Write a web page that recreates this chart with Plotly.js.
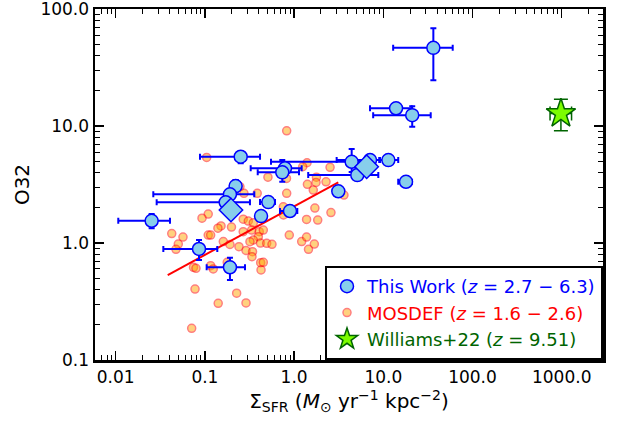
<!DOCTYPE html>
<html><head><meta charset="utf-8">
<script src="https://cdn.plot.ly/plotly-3.0.1.min.js"></script>
<style>html,body{margin:0;padding:0;background:#fff}#chart{width:622px;height:424px}</style>
</head><body><div id="chart"></div>
<script>
// ---- This Work (individual galaxies) ----
const workX   = [36.4, 13.9, 21.1, 4.42, 7.10, 11.4, 5.11, 17.97, 3.13, 0.252, 0.791, 0.737, 0.221, 0.191, 0.171, 0.514, 0.899, 0.426, 0.0253, 0.0859, 0.191];
const workY   = [46.7, 14.2, 12.4, 4.95, 5.12, 5.12, 3.81, 3.34, 2.77, 5.47, 4.35, 4.02, 3.07, 2.61, 2.23, 2.24, 1.877, 1.70, 1.55, 0.889, 0.620];
const workXLo = [12.9, 7.1, 7.7, 0.551, 3.0, 9.2, 1.44, 14.7, 3.13, 0.0881, 0.326, 0.391, 0.221, 0.0264, 0.0288, 0.415, 0.695, 0.426, 0.01069, 0.0342, 0.1047];
const workXHi = [60, 20.8, 34, 6.4, 9.0, 14.7, 8.79, 21.0, 3.13, 0.415, 1.216, 1.135, 0.221, 0.358, 0.320, 0.611, 1.086, 0.426, 0.0406, 0.1377, 0.2816];
const workYLo = [24.7, 14.2, 9.86, 4.04, 5.12, 5.12, 3.81, 3.34, 2.77, 4.80, 4.35, 3.34, 2.72, 2.61, 2.23, 2.24, 1.877, 1.70, 1.335, 0.716, 0.483];
const workYHi = [68.8, 14.2, 14.8, 6.36, 5.12, 5.12, 3.81, 3.34, 2.77, 6.03, 4.35, 5.12, 3.46, 2.61, 2.23, 2.24, 1.877, 1.70, 1.77, 1.061, 0.749];
// ---- This Work (stacks, diamonds) ----
const stackX = [0.196, 6.51];
const stackY = [1.915, 4.49];
// ---- MOSDEF ----
const mosdefX = [0.1047, 0.826, 1.396, 1.248, 2.53, 0.509, 0.822, 1.78, 1.76, 2.28, 1.41, 1.64, 0.826, 0.386, 0.274, 0.247, 3.62, 0.757, 1.71, 2.59, 0.760, 0.109, 0.0928, 0.269, 0.3065, 0.349, 1.38, 1.84, 0.1516, 0.140, 0.1986, 0.0425, 0.0568, 0.109, 0.116, 0.269, 0.3346, 0.407, 0.4516, 0.397, 0.349, 0.320, 0.883, 1.216, 1.38, 1.685, 1.45, 0.0503, 0.0474, 0.1608, 0.191, 0.241, 0.289, 0.342, 0.337, 0.420, 0.493, 0.565, 0.0745, 0.0794, 0.116, 0.124, 0.178, 0.422, 0.4516, 0.426, 0.0775, 0.227, 0.141, 0.289, 0.0711];
const mosdefY = [5.40, 9.12, 4.86, 4.49, 4.44, 3.66, 3.57, 3.66, 3.30, 3.34, 3.18, 2.84, 2.66, 2.66, 2.66, 3.03, 2.57, 2.04, 1.99, 1.82, 1.74, 1.77, 1.63, 1.60, 1.54, 1.49, 1.59, 1.57, 1.40, 1.34, 1.37, 1.205, 1.125, 1.17, 1.17, 1.249, 1.29, 1.249, 1.29, 1.132, 1.061, 1.026, 1.17, 1.03, 1.125, 0.98, 0.883, 0.98, 0.883, 1.03, 0.971, 0.930, 0.863, 0.843, 0.764, 1.0, 0.994, 0.975, 0.620, 0.608, 0.640, 0.600, 0.684, 0.679, 0.684, 0.588, 0.404, 0.372, 0.305, 0.307, 0.1866];
// ---- MOSDEF fit ----
const fitX = [0.0383, 3.13];
const fitY = [0.532, 3.30];
// ---- Williams+22 ----
const wilX = [980], wilY = [12.8];
const wilXLo = [740], wilXHi = [1290], wilYLo = [9.12], wilYHi = [17.0];
// ---- Ticks ----
const xTickVals = [0.01, 0.1, 1, 10, 100, 1000];
const xTickText = ['0.01', '0.1', '1.0', '10.0', '100.0', '1000.0'];
const yTickVals = [0.1, 1, 10, 100];
const yTickText = ['0.1', '1.0', '10.0', '100.0'];

function minorVals(d0, d1) { const v = []; for (let d = d0; d <= d1; d++) for (let k = 2; k <= 9; k++) v.push(k * Math.pow(10, d)); return v; }
const plus = (v, hi) => hi.map((h, i) => h - v[i]);
const minus = (v, lo) => lo.map((l, i) => v[i] - l);

const FONT = 'DejaVu Sans, sans-serif';

const traces = [
  { x: mosdefX, y: mosdefY, type: 'scatter', mode: 'markers', name: '<span style="color:red">MOSDEF (<i>z</i> = 1.6 − 2.6)</span>',
    legendgroup: 'b', legendrank: 2,
    marker: { symbol: 'circle', size: 8, color: 'orange', opacity: 0.5, line: { color: 'red', width: 1.5 } } },
  { x: fitX, y: fitY, type: 'scatter', mode: 'lines', showlegend: false, line: { color: 'red', width: 2 } },
  { x: workX, y: workY, type: 'scatter', mode: 'markers', name: '<span style="color:blue">This Work (<i>z</i> = 2.7 − 6.3)</span>',
    legendgroup: 'a', legendrank: 1,
    marker: { symbol: 'circle', size: 13, color: '#87CEEB', line: { color: 'blue', width: 1.5 } },
    error_x: { type: 'data', symmetric: false, array: plus(workX, workXHi), arrayminus: minus(workX, workXLo), color: 'blue', thickness: 2, width: 3 },
    error_y: { type: 'data', symmetric: false, array: plus(workY, workYHi), arrayminus: minus(workY, workYLo), color: 'blue', thickness: 2, width: 3 } },
  { x: stackX, y: stackY, type: 'scatter', mode: 'markers', showlegend: false,
    marker: { symbol: 'diamond', size: 18, color: '#87CEEB', line: { color: 'blue', width: 1.5 } } },
  { x: wilX, y: wilY, type: 'scatter', mode: 'markers', name: '<span style="color:darkgreen">Williams+22 (<i>z</i> = 9.51)</span>',
    legendgroup: 'c', legendrank: 3,
    marker: { symbol: 'star', size: 22, color: '#7CFC00', line: { color: 'darkgreen', width: 1.5 } },
    error_x: { type: 'data', symmetric: false, array: plus(wilX, wilXHi), arrayminus: minus(wilX, wilXLo), color: 'darkgreen', thickness: 1.5, width: 7 },
    error_y: { type: 'data', symmetric: false, array: plus(wilY, wilYHi), arrayminus: minus(wilY, wilYLo), color: 'darkgreen', thickness: 1.5, width: 7 } }
];

const axisCommon = {
  type: 'log', showgrid: false, zeroline: false,
  showline: true, linecolor: 'black', linewidth: 2.5, mirror: 'allticks',
  ticks: 'inside', ticklen: 9, tickwidth: 1.5, tickcolor: 'black',
  tickfont: { family: FONT, size: 17, color: 'black' }, tickmode: 'array',
  ticklabeloverflow: 'allow'
};

const layout = {
  width: 622, height: 424,
  margin: { l: 95, r: 19, t: 9, b: 64 },
  paper_bgcolor: 'white', plot_bgcolor: 'white',
  font: { family: FONT, color: 'black' },
  xaxis: Object.assign({}, axisCommon, {
    range: [-2.232, 3.463], tickvals: xTickVals, ticktext: xTickText,
    minor: { tickmode: 'array', tickvals: minorVals(-3, 3), ticks: 'inside', ticklen: 5, tickwidth: 1, tickcolor: 'black', showgrid: false },
    title: { text: 'Σ<sub>SFR</sub> (<i>M</i><sub>⊙</sub> yr<sup>−1</sup> kpc<sup>−2</sup>)', font: { family: FONT, size: 20, color: 'black' }, standoff: 8 },
    automargin: 'bottom'
  }),
  yaxis: Object.assign({}, axisCommon, {
    range: [-1.0005, 2.0015], tickvals: yTickVals, ticktext: yTickText,
    minor: { tickmode: 'array', tickvals: minorVals(-2, 2), ticks: 'inside', ticklen: 5, tickwidth: 1, tickcolor: 'black', showgrid: false },
    title: { text: 'O32', font: { family: FONT, size: 20, color: 'black' }, standoff: 6 },
    automargin: 'left'
  }),
  showlegend: true,
  legend: {
    x: 1, xanchor: 'right', y: 0, yanchor: 'bottom',
    bgcolor: 'white', bordercolor: 'black', borderwidth: 2,
    font: { family: FONT, size: 18 }, tracegroupgap: 4, traceorder: 'normal'
  }
};

Plotly.newPlot('chart', traces, layout, { displayModeBar: false, staticPlot: true });
</script>
</body></html>
